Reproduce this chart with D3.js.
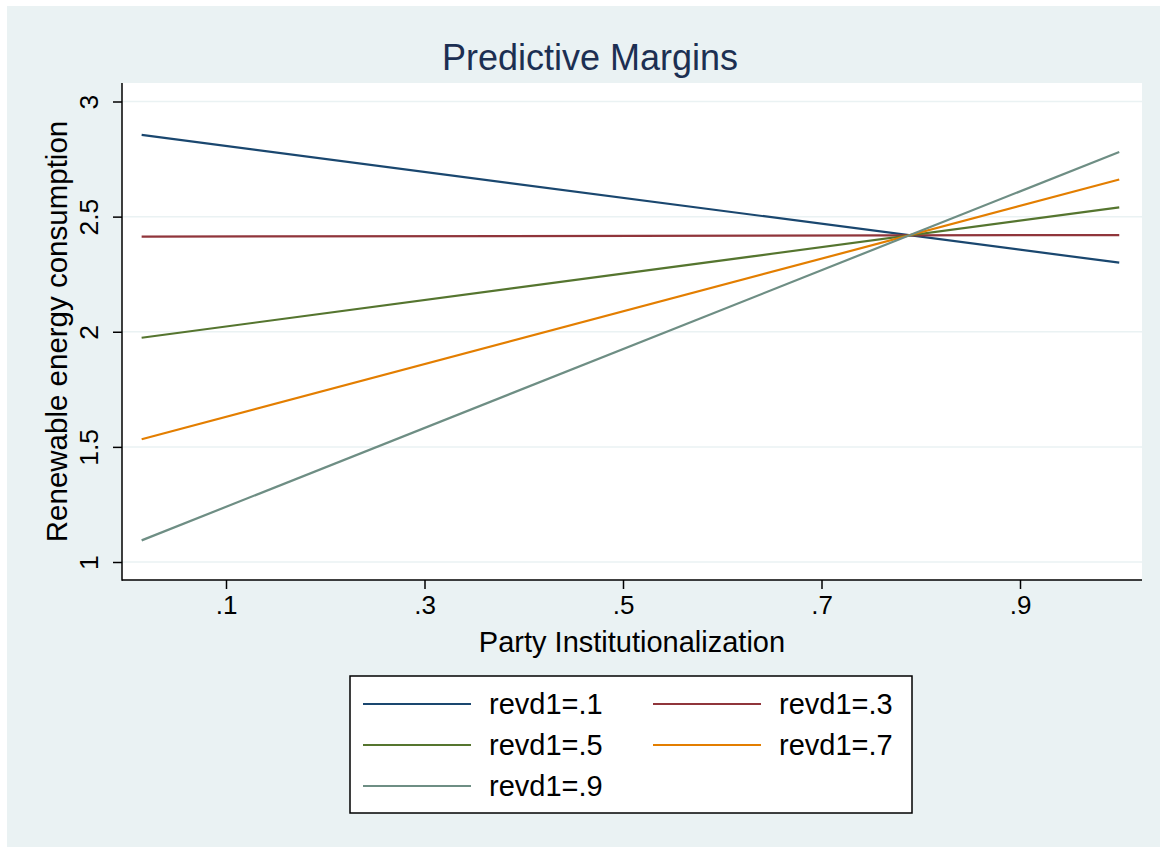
<!DOCTYPE html>
<html>
<head>
<meta charset="utf-8">
<script src="https://cdn.jsdelivr.net/npm/d3@7/dist/d3.min.js"></script>
<style>
  html, body { margin: 0; padding: 0; background: #ffffff; }
  svg { display: block; }
  text { font-family: "Liberation Sans", Arial, Helvetica, sans-serif; }
</style>
</head>
<body>
<svg id="chart" width="1160" height="847"></svg>
<script>
// ---- data ----
const xValues = [0.015, 1.0];
const seriesNames = ["revd1=.1", "revd1=.3", "revd1=.5", "revd1=.7", "revd1=.9"];
const seriesStart = [2.855, 2.413, 1.974, 1.533, 1.094];
const seriesEnd   = [2.300, 2.420, 2.540, 2.661, 2.781];
const seriesColors = ["#1a476f", "#90353b", "#55752f", "#e37e00", "#6e8e84"];
const xTicks = [0.1, 0.3, 0.5, 0.7, 0.9];
const xTickLabels = [".1", ".3", ".5", ".7", ".9"];
const yTicks = [1, 1.5, 2, 2.5, 3];
const yTickLabels = ["1", "1.5", "2", "2.5", "3"];
const titleText = "Predictive Margins";
const xTitle = "Party Institutionalization";
const yTitle = "Renewable energy consumption";

// ---- layout ----
const svg = d3.select("#chart");
const plot = { left: 122, right: 1142, top: 83, bottom: 580 };

svg.append("rect").attr("x", 7).attr("y", 6).attr("width", 1153).attr("height", 841).attr("fill", "#eaf2f3");
svg.append("rect").attr("x", plot.left).attr("y", plot.top)
  .attr("width", plot.right - plot.left).attr("height", plot.bottom - plot.top).attr("fill", "#ffffff");

const x = d3.scaleLinear().domain([0.1, 0.9]).range([226, 1020]);
const y = d3.scaleLinear().domain([1, 3]).range([562, 101.5]);

// gridlines
svg.append("g").selectAll("line").data(yTicks).join("line")
  .attr("x1", plot.left).attr("x2", plot.right)
  .attr("y1", d => y(d)).attr("y2", d => y(d))
  .attr("stroke", "#eaf2f3").attr("stroke-width", 1.5);

// series lines
const lineGen = d3.line().x(d => x(d[0])).y(d => y(d[1]));
seriesNames.forEach((name, i) => {
  const pts = xValues.map((xv, j) => [xv, j === 0 ? seriesStart[i] : seriesEnd[i]]);
  svg.append("path").datum(pts).attr("d", lineGen)
    .attr("fill", "none").attr("stroke", seriesColors[i]).attr("stroke-width", 2.2);
});

// y axis
const yAxis = d3.axisLeft(y).tickValues(yTicks).tickFormat((d, i) => yTickLabels[i]).tickSize(9).tickPadding(0);
const gy = svg.append("g").attr("transform", `translate(${plot.left},0)`).call(yAxis);
gy.select(".domain").remove();
gy.selectAll(".tick line").attr("stroke", "#000").attr("stroke-width", 1.5);
gy.selectAll(".tick text")
  .attr("x", 0).attr("y", 0).attr("dy", 0)
  .attr("transform", "translate(-24,0) rotate(-90)")
  .attr("text-anchor", "middle")
  .attr("font-size", 26.5).attr("fill", "#000");
svg.append("line").attr("x1", plot.left).attr("x2", plot.left)
  .attr("y1", plot.top).attr("y2", plot.bottom + 0.75)
  .attr("stroke", "#000").attr("stroke-width", 1.5);

// x axis
const xAxis = d3.axisBottom(x).tickValues(xTicks).tickFormat((d, i) => xTickLabels[i]).tickSize(9).tickPadding(6);
const gx = svg.append("g").attr("transform", `translate(0,${plot.bottom})`).call(xAxis);
gx.select(".domain").remove();
gx.selectAll(".tick line").attr("stroke", "#000").attr("stroke-width", 1.5);
gx.selectAll(".tick text").attr("font-size", 26).attr("fill", "#000").attr("dy", "0.72em");
svg.append("line").attr("x1", plot.left).attr("x2", plot.right)
  .attr("y1", plot.bottom).attr("y2", plot.bottom)
  .attr("stroke", "#000").attr("stroke-width", 1.5);

// titles
svg.append("text").attr("x", 590).attr("y", 70).attr("text-anchor", "middle")
  .attr("font-size", 36).attr("fill", "#1c2f52").text(titleText);
svg.append("text").attr("x", 632).attr("y", 652).attr("text-anchor", "middle")
  .attr("font-size", 29).attr("fill", "#000").text(xTitle);
svg.append("text").attr("transform", `translate(67,${(plot.top + plot.bottom) / 2}) rotate(-90)`)
  .attr("text-anchor", "middle").attr("font-size", 29.5).attr("fill", "#000").text(yTitle);

// legend
const lg = svg.append("g");
lg.append("rect").attr("x", 350).attr("y", 676).attr("width", 562).attr("height", 137)
  .attr("fill", "#fff").attr("stroke", "#000").attr("stroke-width", 1.5);
const colX = [363, 653];
const rowY = [704, 745, 786];
seriesNames.forEach((name, i) => {
  const c = i % 2, r = Math.floor(i / 2);
  lg.append("line").attr("x1", colX[c]).attr("x2", colX[c] + 108)
    .attr("y1", rowY[r]).attr("y2", rowY[r])
    .attr("stroke", seriesColors[i]).attr("stroke-width", 2.2);
  lg.append("text").attr("x", colX[c] + 126).attr("y", rowY[r] + 10)
    .attr("font-size", 29).attr("fill", "#000").text(name);
});
</script>
</body>
</html>
